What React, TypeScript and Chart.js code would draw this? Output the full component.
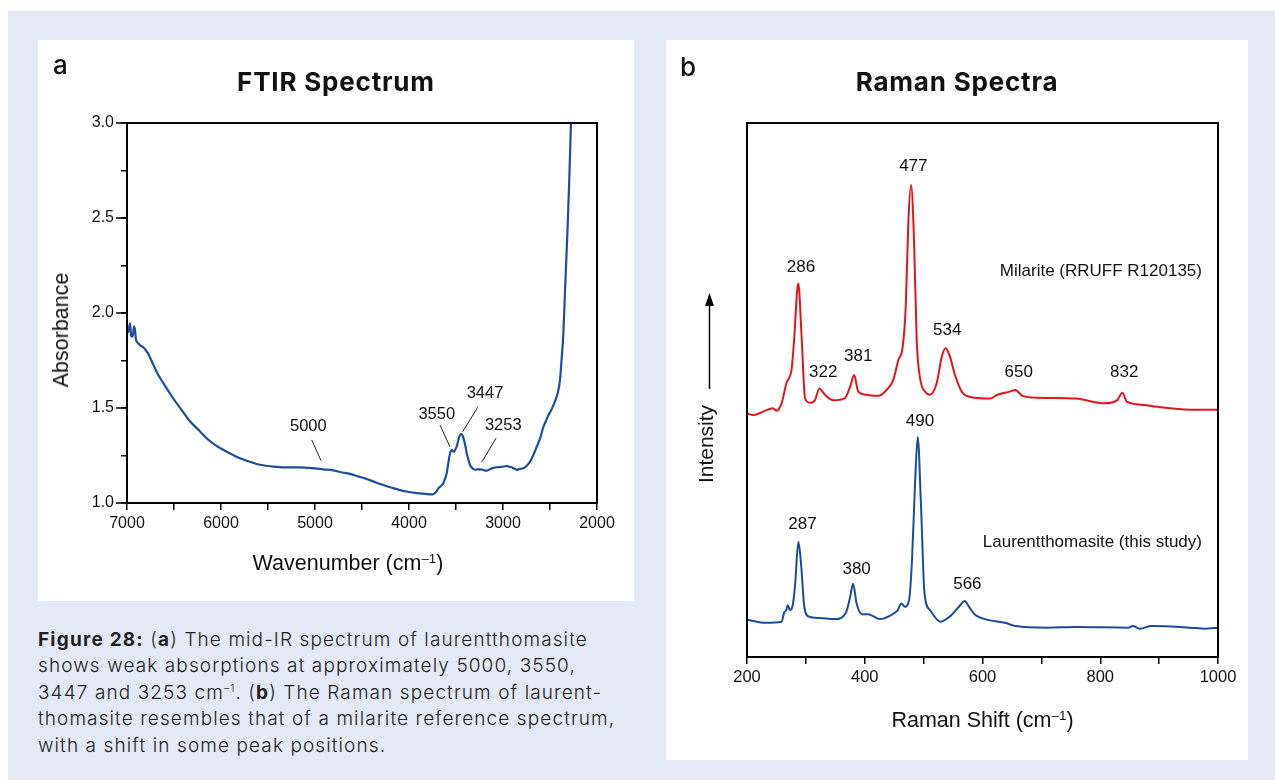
import { useEffect, useRef } from "react";
import { Chart, registerables } from "chart.js";

Chart.register(...registerables);

const CHART_FONT = "'Liberation Sans', Arial, Helvetica, sans-serif";
const UI_FONT = "Inter, 'Noto Sans', 'Open Sans', sans-serif";

// ---------- FTIR data ----------
const ftirWavenumber = [
  7000, 6985, 6968, 6955, 6940, 6925, 6915, 6905, 6897, 6880, 6860, 6827, 6780, 6740, 6684, 6600, 6507,
  6420, 6330, 6240, 6152, 6060, 5976, 5880, 5798, 5700, 5620, 5520, 5444, 5350, 5266, 5160, 5088, 5000,
  4912, 4805, 4734, 4628, 4540, 4450, 4360, 4273, 4180, 4096, 4000, 3918, 3830, 3760, 3741, 3710, 3688,
  3660, 3635, 3615, 3599, 3585, 3571, 3558, 3546, 3533, 3521, 3507, 3493, 3478, 3465, 3450, 3440, 3428,
  3415, 3400, 3386, 3368, 3351, 3325, 3298, 3265, 3245, 3227, 3200, 3173, 3140, 3100, 3067, 3020, 2990,
  2961, 2930, 2905, 2890, 2870, 2854, 2830, 2810, 2784, 2750, 2713, 2680, 2641, 2605, 2571, 2545, 2518,
  2485, 2447, 2420, 2394, 2376, 2358, 2340, 2325, 2312, 2295, 2277,
];
const ftirAbsorbance = [
  1.93, 1.9, 1.946, 1.88, 1.875, 1.93, 1.91, 1.86, 1.85, 1.84, 1.83, 1.82, 1.79, 1.75, 1.69, 1.62, 1.55,
  1.49, 1.43, 1.385, 1.34, 1.305, 1.28, 1.255, 1.235, 1.218, 1.205, 1.196, 1.191, 1.188, 1.187, 1.187, 1.185, 1.182,
  1.177, 1.172, 1.163, 1.153, 1.14, 1.126, 1.11, 1.095, 1.08, 1.068, 1.058, 1.052, 1.048, 1.045, 1.046, 1.06, 1.077,
  1.09, 1.104, 1.13, 1.156, 1.2, 1.244, 1.27, 1.279, 1.272, 1.27, 1.282, 1.296, 1.325, 1.349, 1.362, 1.363, 1.352,
  1.332, 1.3, 1.262, 1.228, 1.2, 1.183, 1.175, 1.178, 1.176, 1.177, 1.172, 1.17, 1.178, 1.185, 1.188, 1.19, 1.192,
  1.195, 1.19, 1.188, 1.183, 1.18, 1.174, 1.178, 1.18, 1.183, 1.195, 1.217, 1.25, 1.296, 1.34, 1.4, 1.43, 1.46,
  1.49, 1.535, 1.575, 1.645, 1.76, 1.89, 2.12, 2.3, 2.46, 2.7, 3.0,
];
const ftirPeakLabels = ["5000", "3550", "3447", "3253"];
const ftirLabelX = [5071, 3705, 3191, 2997];
const ftirLabelY = [1.402, 1.468, 1.574, 1.41];
const ftirLeaderFrom = [[5035, 1.332], [3670, 1.41], [3269, 1.504], [3074, 1.341]];
const ftirLeaderTo = [[4936, 1.223], [3564, 1.296], [3429, 1.375], [3227, 1.214]];
const ftirMajorY = [1.0, 1.5, 2.0, 2.5, 3.0];

// ---------- Raman data ----------
const milariteShift = [
  200, 211, 230, 244, 250, 259, 267, 276, 280, 287, 293, 298.5, 307, 315.5, 322.8, 332.5, 346, 366.5, 375,
  382, 389, 403, 423, 437, 448.5, 457, 464.5, 469.6, 474, 478.6, 483.7, 488.2, 493.8, 502.3, 510.8, 522.2,
  530.7, 537.5, 544.8, 553.3, 564.7, 584.4, 612.7, 625.3, 646.5, 655.5, 667.8, 686, 758.8, 807.4, 828.8,
  837.8, 845.1, 874.3, 892.5, 953.3, 1000,
];
const milariteIntensity = [
  45.6, 45.3, 46.1, 46.6, 46.1, 47.6, 51.3, 54.1, 59.4, 70.0, 59.4, 48.5, 47.6, 48.1, 50.3, 49.1, 48.1, 48.5, 50.6,
  52.8, 49.7, 49.1, 48.9, 50.0, 51.9, 55.6, 58.1, 65.6, 81.3, 88.4, 78.1, 59.4, 52.3, 49.7, 49.1, 51.3,
  56.2, 57.8, 56.2, 52.8, 49.7, 48.6, 48.4, 49.1, 49.7, 50.0, 48.9, 48.6, 48.4, 47.5, 48.1,
  49.5, 47.8, 47.2, 46.9, 46.3, 46.3,
];
const laurentShift = [
  200, 231.6, 258.8, 263, 266.8, 269.1, 272.9, 277.1, 281.4, 287.3, 292.2, 297, 304.3, 322.5, 349.8, 368,
  375.3, 380.2, 386.2, 395.3, 405.7, 425.7, 443.9, 456, 462.1, 468.2, 475.3, 480.3, 485.2, 490, 495.4,
  501.5, 510.7, 528.8, 547, 562.1, 569.4, 577.2, 586.4, 607.6, 638, 656.2, 710.7, 759.3, 847.3, 855.1,
  867.3, 886.7, 953.4, 977.7, 1000,
];
const laurentIntensity = [
  7.0, 6.4, 6.6, 8.3, 8.8, 9.7, 8.8, 9.4, 13.1, 21.6, 16.9, 9.7, 7.6, 7.3, 7.1, 8.3,
  11.3, 13.7, 10.0, 8.0, 8.0, 7.1, 7.8, 8.8, 10.0, 9.4, 10.7, 18.2, 31.9, 41.2, 28.8,
  11.9, 8.8, 6.6, 7.8, 9.7, 10.5, 9.4, 8.0, 7.0, 6.4, 5.8, 5.5, 5.6, 5.5, 5.8,
  5.3, 5.8, 5.5, 5.3, 5.5,
];
const ramanPeakLabels = ["286", "322", "381", "477", "534", "650", "832", "490", "287", "380", "566"];
const ramanLabelX = [291.7, 329.6, 389.0, 482.5, 540.2, 661.6, 840.8, 493.8, 294.1, 386.2, 574.3];
const ramanLabelY = [73.0, 53.3, 56.4, 91.9, 61.2, 53.4, 53.4, 44.2, 24.9, 16.5, 13.7];
const ramanSeriesNames = ["Milarite (RRUFF R120135)", "Laurentthomasite (this study)"];
const ramanSeriesNameX = [972.8, 972.8];
const ramanSeriesNameY = [72.3, 21.4];

const zip = (xs: number[], ys: number[]) => xs.map((x, i) => ({ x, y: ys[i] }));

const framePlugin = {
  id: "frame",
  afterDraw(chart: any) {
    const { ctx, chartArea: a } = chart;
    ctx.save();
    ctx.strokeStyle = "#000";
    ctx.lineWidth = 2;
    ctx.strokeRect(a.left, a.top, a.right - a.left, a.bottom - a.top);
    ctx.restore();
  },
};

const majorTickPlugin = {
  id: "majorTicks",
  afterDraw(chart: any) {
    const { ctx, chartArea: a, scales } = chart;
    ctx.save();
    ctx.strokeStyle = "#000";
    ctx.lineWidth = 1.5;
    ftirMajorY.forEach((v) => {
      const y = scales.y.getPixelForValue(v);
      ctx.beginPath();
      ctx.moveTo(a.left - 11, y);
      ctx.lineTo(a.left, y);
      ctx.stroke();
    });
    ctx.restore();
  },
};

function makeLabelPlugin(
  id: string,
  texts: string[],
  xs: number[],
  ys: number[],
  size: number,
  align: CanvasTextAlign,
  leadersFrom: number[][] | null,
  leadersTo: number[][] | null
) {
  return {
    id,
    afterDatasetsDraw(chart: any) {
      const { ctx, scales } = chart;
      const sx = scales.x;
      const sy = scales.y;
      ctx.save();
      ctx.font = `${size}px ${CHART_FONT}`;
      ctx.fillStyle = "#111";
      ctx.textBaseline = "middle";
      ctx.textAlign = align;
      texts.forEach((t, i) => {
        ctx.fillText(t, sx.getPixelForValue(xs[i]), sy.getPixelForValue(ys[i]));
      });
      if (leadersFrom && leadersTo) {
        ctx.strokeStyle = "#222";
        ctx.lineWidth = 1;
        leadersFrom.forEach((f, i) => {
          const t = leadersTo[i];
          ctx.beginPath();
          ctx.moveTo(sx.getPixelForValue(f[0]), sy.getPixelForValue(f[1]));
          ctx.lineTo(sx.getPixelForValue(t[0]), sy.getPixelForValue(t[1]));
          ctx.stroke();
        });
      }
      ctx.restore();
    },
  };
}

const intensityPlugin = {
  id: "intensityTitle",
  afterDraw(chart: any) {
    const { ctx, chartArea: a } = chart;
    const x = a.left - 37.5;
    ctx.save();
    ctx.strokeStyle = "#000";
    ctx.fillStyle = "#000";
    ctx.lineWidth = 1.5;
    ctx.beginPath();
    ctx.moveTo(x, 349);
    ctx.lineTo(x, 262);
    ctx.stroke();
    ctx.beginPath();
    ctx.moveTo(x, 253);
    ctx.lineTo(x - 4.5, 266);
    ctx.lineTo(x + 4.5, 266);
    ctx.closePath();
    ctx.fill();
    ctx.translate(a.left - 39.5, 404);
    ctx.rotate(-Math.PI / 2);
    ctx.font = `21px ${CHART_FONT}`;
    ctx.textAlign = "center";
    ctx.textBaseline = "middle";
    ctx.fillStyle = "#111";
    ctx.fillText("Intensity", 0, 0);
    ctx.restore();
  },
};

const axisGrid = (len: number) => ({
  display: true,
  drawOnChartArea: false,
  drawTicks: true,
  tickLength: len,
  color: "#000",
  lineWidth: 1.5,
});
const axisBorder = { display: true, color: "#000", width: 2 };

function FtirChart() {
  const ref = useRef<HTMLCanvasElement>(null);
  useEffect(() => {
    const chart = new Chart(ref.current as HTMLCanvasElement, {
      type: "scatter",
      data: {
        datasets: [
          {
            data: zip(ftirWavenumber, ftirAbsorbance),
            showLine: true,
            borderColor: "#1f4c9e",
            borderWidth: 2.2,
            pointRadius: 0,
            fill: false,
            cubicInterpolationMode: "monotone",
          } as any,
        ],
      },
      options: {
        animation: false,
        responsive: false,
        devicePixelRatio: 1,
        layout: { padding: { left: 51, right: 37, top: 83, bottom: 58 } },
        plugins: { legend: { display: false }, tooltip: { enabled: false } },
        scales: {
          x: {
            type: "linear",
            min: 2000,
            max: 7000,
            reverse: true,
            afterFit: (s: any) => {
              s.height = 40;
            },
            ticks: {
              stepSize: 500,
              autoSkip: false,
              maxRotation: 0,
              padding: 4,
              color: "#111",
              font: { family: CHART_FONT, size: 16 },
              callback: (v: any) => (Number(v) % 1000 === 0 ? String(v) : ""),
            },
            grid: axisGrid(7),
            border: axisBorder,
          },
          y: {
            type: "linear",
            min: 1,
            max: 3,
            afterFit: (s: any) => {
              s.width = 38;
            },
            ticks: {
              stepSize: 0.25,
              autoSkip: false,
              padding: 7,
              color: "#111",
              font: { family: CHART_FONT, size: 16 },
              callback: (v: any) => {
                const n = Number(v);
                return Math.abs(n * 2 - Math.round(n * 2)) < 1e-6 ? n.toFixed(1) : "";
              },
            },
            grid: axisGrid(6),
            border: axisBorder,
          },
        },
      } as any,
      plugins: [
        framePlugin,
        majorTickPlugin,
        makeLabelPlugin("ftirLabels", ftirPeakLabels, ftirLabelX, ftirLabelY, 16.5, "center", ftirLeaderFrom, ftirLeaderTo),
      ],
    });
    return () => chart.destroy();
  }, []);
  return <canvas ref={ref} width={596} height={561} style={{ display: "block", width: 596, height: 561 }} />;
}

function RamanChart() {
  const ref = useRef<HTMLCanvasElement>(null);
  useEffect(() => {
    const chart = new Chart(ref.current as HTMLCanvasElement, {
      type: "scatter",
      data: {
        datasets: [
          {
            data: zip(milariteShift, milariteIntensity),
            showLine: true,
            borderColor: "#e4141c",
            borderWidth: 2,
            pointRadius: 0,
            fill: false,
            cubicInterpolationMode: "monotone",
          } as any,
          {
            data: zip(laurentShift, laurentIntensity),
            showLine: true,
            borderColor: "#1d4a9c",
            borderWidth: 2,
            pointRadius: 0,
            fill: false,
            cubicInterpolationMode: "monotone",
          } as any,
        ],
      },
      options: {
        animation: false,
        responsive: false,
        devicePixelRatio: 1,
        layout: { padding: { left: 81, right: 30, top: 83, bottom: 63 } },
        plugins: { legend: { display: false }, tooltip: { enabled: false } },
        scales: {
          x: {
            type: "linear",
            min: 200,
            max: 1000,
            afterFit: (s: any) => {
              s.height = 40;
            },
            ticks: {
              stepSize: 100,
              autoSkip: false,
              maxRotation: 0,
              padding: 4,
              color: "#111",
              font: { family: CHART_FONT, size: 16.5 },
              callback: (v: any) => (Number(v) % 200 === 0 ? String(v) : ""),
            },
            grid: axisGrid(7),
            border: axisBorder,
          },
          y: { type: "linear", min: 0, max: 100, display: false },
        },
      } as any,
      plugins: [
        framePlugin,
        intensityPlugin,
        makeLabelPlugin("ramanLabels", ramanPeakLabels, ramanLabelX, ramanLabelY, 17, "center", null, null),
        makeLabelPlugin("seriesNames", ramanSeriesNames, ramanSeriesNameX, ramanSeriesNameY, 17, "right", null, null),
      ],
    });
    return () => chart.destroy();
  }, []);
  return <canvas ref={ref} width={582} height={720} style={{ display: "block", width: 582, height: 720 }} />;
}

const abs = (left: number, top: number, extra: any = {}) => ({ position: "absolute" as const, left, top, ...extra });
const supStyle = { fontSize: "0.62em", verticalAlign: "0.55em", lineHeight: 0 };
const titleStyle = {
  textAlign: "center",
  fontFamily: UI_FONT,
  fontSize: 26,
  fontWeight: 700,
  letterSpacing: "0.8px",
  color: "#111",
  lineHeight: "32px",
};
const letterStyle = { fontFamily: UI_FONT, fontSize: 26, fontWeight: 500, color: "#111", lineHeight: "30px" };
const axisTitleStyle = { fontFamily: CHART_FONT, fontSize: 21.5, color: "#111", lineHeight: "26px", whiteSpace: "nowrap" };

export default function App() {
  return (
    <div style={{ position: "absolute", left: 0, top: 0, width: 1275, height: 780, background: "#fff", overflow: "hidden" }}>
      <div style={abs(8, 11, { width: 1267, height: 769, background: "#e3e9f5" })} />
      {/* left panel */}
      <div style={abs(38, 40, { width: 596, height: 561, background: "#fff" })}>
        <FtirChart />
      </div>
      <div style={abs(53, 50, letterStyle)}>a</div>
      <div style={abs(38, 66, { ...titleStyle, width: 596 })}>FTIR Spectrum</div>
      <div style={abs(61, 330, { ...axisTitleStyle, transform: "translate(-50%, -50%) rotate(-90deg)" })}>Absorbance</div>
      <div style={abs(113, 550, { ...axisTitleStyle, width: 470, textAlign: "center" })}>
        Wavenumber (cm<sup style={supStyle}>–1</sup>)
      </div>
      {/* caption */}
      <div
        style={abs(38, 627, {
          fontFamily: UI_FONT,
          fontSize: 19,
          fontWeight: 300,
          letterSpacing: "1.1px",
          lineHeight: "26.4px",
          color: "#231f20",
          whiteSpace: "nowrap",
        })}
      >
        <b style={{ fontWeight: 700, letterSpacing: "1.2px" }}>Figure 28:</b> (<b style={{ fontWeight: 700 }}>a</b>) The mid-IR spectrum of
        laurentthomasite
        <br />
        shows weak absorptions at approximately 5000, 3550,
        <br />
        3447 and 3253 cm<sup style={{ fontSize: "0.55em", verticalAlign: "0.7em", lineHeight: 0 }}>–1</sup>. (
        <b style={{ fontWeight: 700 }}>b</b>) The Raman spectrum of laurent-
        <br />
        thomasite resembles that of a milarite reference spectrum,
        <br />
        with a shift in some peak positions.
      </div>
      {/* right panel */}
      <div style={abs(666, 40, { width: 582, height: 720, background: "#fff" })}>
        <RamanChart />
      </div>
      <div style={abs(680, 52, letterStyle)}>b</div>
      <div style={abs(666, 66, { ...titleStyle, width: 582 })}>Raman Spectra</div>
      <div style={abs(747, 707, { ...axisTitleStyle, width: 471, textAlign: "center" })}>
        Raman Shift (cm<sup style={supStyle}>–1</sup>)
      </div>
    </div>
  );
}
